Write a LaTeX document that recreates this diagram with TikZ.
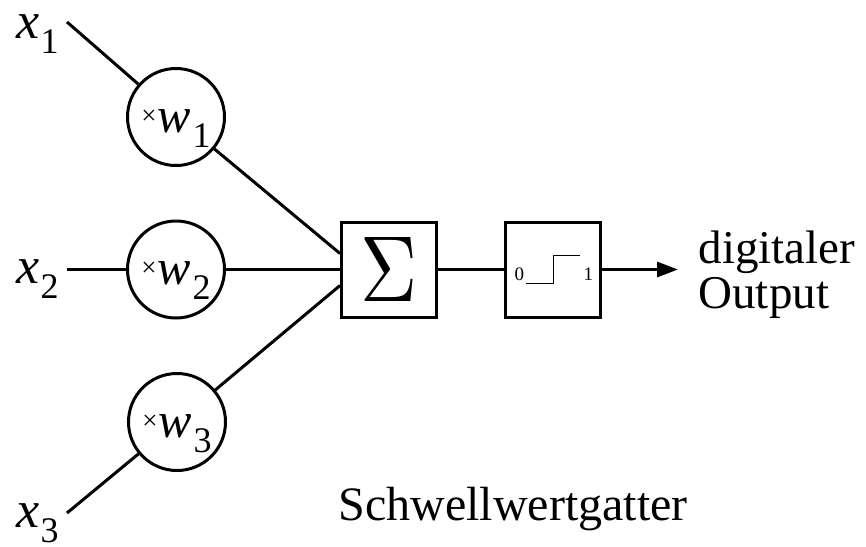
\documentclass[tikz,border=0pt]{standalone}
\usepackage{fontspec}
\usepackage{graphicx}
\setmainfont{Liberation Serif}
\usetikzlibrary{arrows.meta}

% input label x_i
\newcommand{\xlab}[1]{{\fontsize{52}{52}\selectfont\itshape x}\kern1pt\raisebox{-15pt}{\fontsize{36}{36}\selectfont #1}}
% weight label ×w_i, hanging 15pt below the node centre
\newcommand{\wlab}[1]{\raisebox{-15pt}[0pt][0pt]{{\fontsize{27}{27}\selectfont\raisebox{8pt}{×}}\kern0.5pt{\fontsize{50}{50}\selectfont\itshape w}\kern2pt\raisebox{-15pt}{\fontsize{36}{36}\selectfont #1}}}

\begin{document}
\begin{tikzpicture}[x=1pt,y=-1pt,
  line width=3pt,
  weight/.style={circle,draw,minimum size=97pt,inner sep=0pt},
  block/.style={rectangle,draw,minimum size=95pt,inner sep=0pt},
  inlabel/.style={anchor=base west,inner sep=0pt},
  bigtext/.style={font=\fontsize{47}{45}\selectfont},
  tiny/.style={font=\fontsize{19}{19}\selectfont,inner sep=0pt,anchor=base west}]
  \useasboundingbox (0,0) rectangle (866,546);

  % inputs
  \node[inlabel] (x1) at (15,38) {\xlab{1}};
  \node[inlabel] (x2) at (15,283) {\xlab{2}};
  \node[inlabel] (x3) at (15,527) {\xlab{3}};
  \coordinate (a1) at (67,22);
  \coordinate (a2) at (67,269.5);
  \coordinate (a3) at (67,513);

  % weights
  \node[weight] (w1) at (176,117) {\wlab{1}};
  \node[weight] (w2) at (176,269.5) {\wlab{2}};
  \node[weight] (w3) at (177,422) {\wlab{3}};

  % summation and threshold blocks
  \node[block] (sum) at (389,269.5) {\resizebox{57pt}{64pt}{$\Sigma$}};
  \node[block] (step) at (553,269.5) {};
  \coordinate (out) at (678,269.5);

  % step function inside the threshold block
  \node[tiny] (zero) at (513,280) {0};
  \node[tiny] (one) at (582,280) {1};
  \coordinate (s0) at (526,283);
  \coordinate (s1) at (553,283);
  \coordinate (s2) at (553,255);
  \coordinate (s3) at (580,255);
  \draw[line width=1pt] (s0) -- (s1) -- (s2) -- (s3);

  % connectors
  \draw (a1) -- (w1);
  \draw (a2) -- (w2);
  \draw (a3) -- (w3);
  \draw (w1) -- ([yshift=16pt]sum.west);
  \draw (w2) -- (sum.west);
  \draw (w3) -- ([yshift=-16pt]sum.west);
  \draw (sum) -- (step);
  \draw[-{Triangle[length=21pt,width=15pt]}] (step.east) -- (out);

  % texts
  \node[bigtext,anchor=base west,align=left,inner sep=0pt] (outtext) at (697,308) {digitaler\\Output};
  \node[bigtext,anchor=base west,inner sep=0pt,font=\fontsize{48}{48}\selectfont] (name) at (337,520) {Schwellwertgatter};
\end{tikzpicture}
\end{document}
